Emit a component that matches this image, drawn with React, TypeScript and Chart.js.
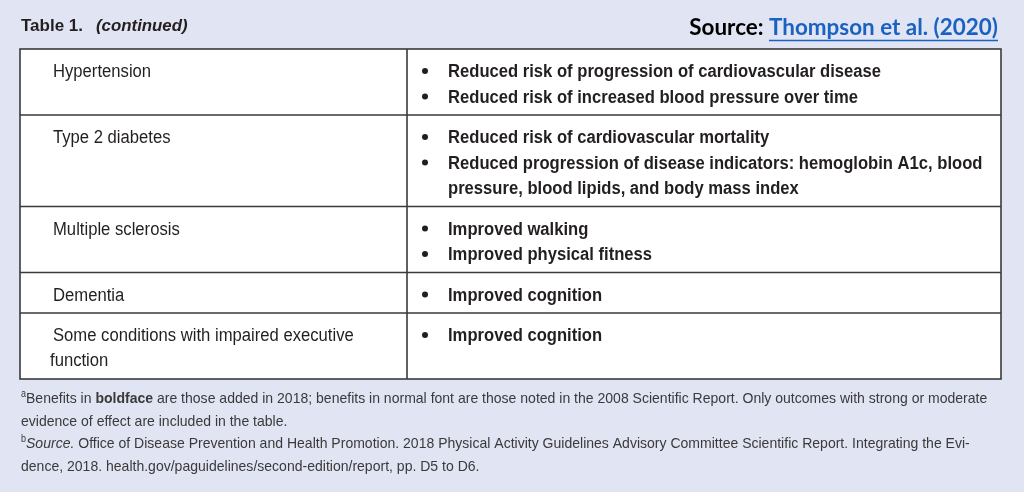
import React, { useEffect, useRef } from "react";
import { Chart, registerables } from "chart.js";

Chart.register(...registerables);

// ---- content ----
const titleLabel = "Table 1.";
const titleNote = "(continued)";
const sourceLabel = "Source: ";
const sourceLink = "Thompson et al. (2020)";

const conditions: string[][] = [
  ["Hypertension"],
  ["Type 2 diabetes"],
  ["Multiple sclerosis"],
  ["Dementia"],
  ["Some conditions with impaired executive", "function"],
];

const hypertensionBenefits: string[][] = [
  ["Reduced risk of progression of cardiovascular disease"],
  ["Reduced risk of increased blood pressure over time"],
];
const diabetesBenefits: string[][] = [
  ["Reduced risk of cardiovascular mortality"],
  ["Reduced progression of disease indicators: hemoglobin A1c, blood", "pressure, blood lipids, and body mass index"],
];
const sclerosisBenefits: string[][] = [["Improved walking"], ["Improved physical fitness"]];
const dementiaBenefits: string[][] = [["Improved cognition"]];
const executiveBenefits: string[][] = [["Improved cognition"]];
const benefitsByRow = [hypertensionBenefits, diabetesBenefits, sclerosisBenefits, dementiaBenefits, executiveBenefits];

type Seg = { t: string; s: "n" | "b" | "i" | "sup" };
const footnoteA1: Seg[] = [
  { t: "a", s: "sup" },
  { t: "Benefits in ", s: "n" },
  { t: "boldface", s: "b" },
  { t: " are those added in 2018; benefits in normal font are those noted in the 2008 Scientific Report. Only outcomes with strong or moderate", s: "n" },
];
const footnoteA2: Seg[] = [{ t: "evidence of effect are included in the table.", s: "n" }];
const footnoteB1: Seg[] = [
  { t: "b", s: "sup" },
  { t: "Source.", s: "i" },
  { t: " Office of Disease Prevention and Health Promotion. 2018 Physical Activity Guidelines Advisory Committee Scientific Report. Integrating the Evi-", s: "n" },
];
const footnoteB2: Seg[] = [{ t: "dence, 2018. health.gov/paguidelines/second-edition/report, pp. D5 to D6.", s: "n" }];
const footnotes = [footnoteA1, footnoteA2, footnoteB1, footnoteB2];

// ---- style ----
const W = 1024;
const H = 492;
const BG = "#e1e4f2";
const INK = "#231f20";
const FOOT_INK = "#3a3a3a";
const LINK = "#1a62c2";
const FAMILY = '"Liberation Sans", Arial, sans-serif';

function drawText(
  ctx: CanvasRenderingContext2D,
  s: string,
  x: number,
  y: number,
  font: string,
  sx: number,
  color: string
): number {
  ctx.save();
  ctx.font = font;
  ctx.fillStyle = color;
  ctx.textBaseline = "alphabetic";
  ctx.textAlign = "left";
  ctx.translate(x, y);
  ctx.scale(sx, 1);
  ctx.fillText(s, 0, 0);
  const w = ctx.measureText(s).width * sx;
  ctx.restore();
  return w;
}

const tablePlugin = {
  id: "tableDraw",
  beforeDraw(chart: any) {
    const ctx: CanvasRenderingContext2D = chart.ctx;
    ctx.save();
    ctx.fillStyle = BG;
    ctx.fillRect(0, 0, chart.width, chart.height);
    ctx.restore();
  },
  afterDraw(chart: any) {
    const ctx: CanvasRenderingContext2D = chart.ctx;
    const xs = chart.scales.x;
    const ys = chart.scales.y;
    const px = (v: number) => xs.getPixelForValue(v);
    const py = (v: number) => ys.getPixelForValue(v);

    // title
    drawText(ctx, titleLabel, px(21), py(31), `bold 17px ${FAMILY}`, 1.0, INK);
    drawText(ctx, titleNote, px(96), py(31), `italic bold 17px ${FAMILY}`, 0.99, INK);

    // source
    ctx.save();
    const srcFont = 'bold 22px Lato, "Open Sans", sans-serif';
    ctx.font = srcFont;
    const sx = 1.02;
    const wLabel = ctx.measureText(sourceLabel).width * sx;
    const wLink = ctx.measureText(sourceLink).width * sx;
    ctx.restore();
    const right = px(998);
    const sStart = right - wLabel - wLink;
    drawText(ctx, sourceLabel, sStart, py(35), srcFont, sx, "#000000");
    drawText(ctx, sourceLink, sStart + wLabel, py(35), srcFont, sx, LINK);
    ctx.save();
    ctx.strokeStyle = LINK;
    ctx.lineWidth = 1.6;
    ctx.beginPath();
    ctx.moveTo(sStart + wLabel, py(40.5));
    ctx.lineTo(right, py(40.5));
    ctx.stroke();
    ctx.restore();

    // table geometry from line counts
    const left = 20;
    const mid = 407;
    const rightEdge = 1001;
    const top = 49;
    const lineH = 25.5;
    const rowEdges: number[] = [top];
    conditions.forEach((c, i) => {
      const nb = benefitsByRow[i].reduce((a, b) => a + b.length, 0);
      const n = Math.max(c.length, nb);
      rowEdges.push(rowEdges[rowEdges.length - 1] + 15 + lineH * n);
    });
    const bottom = rowEdges[rowEdges.length - 1];

    ctx.save();
    ctx.fillStyle = "#ffffff";
    ctx.fillRect(px(left), py(top), px(rightEdge) - px(left), py(bottom) - py(top));
    ctx.restore();

    const regFont = `18px ${FAMILY}`;
    const boldFont = `bold 18px ${FAMILY}`;
    conditions.forEach((c, i) => {
      const rt = rowEdges[i];
      c.forEach((line, j) => {
        drawText(ctx, line, px(j === 0 ? 53 : 50), py(rt + 28 + j * 25), regFont, 0.925, INK);
      });
      let k = 0;
      benefitsByRow[i].forEach((item) => {
        item.forEach((line, j) => {
          const base = rt + 28 + k * 25.5;
          if (j === 0) {
            ctx.save();
            ctx.fillStyle = INK;
            ctx.beginPath();
            ctx.arc(px(425), py(base - 6), 3, 0, Math.PI * 2);
            ctx.fill();
            ctx.restore();
          }
          drawText(ctx, line, px(448), py(base), boldFont, 0.923, INK);
          k++;
        });
      });
    });

    // grid lines
    ctx.save();
    ctx.strokeStyle = "#3a3a3a";
    ctx.lineWidth = 1.6;
    ctx.strokeRect(px(left), py(top), px(rightEdge) - px(left), py(bottom) - py(top));
    ctx.beginPath();
    ctx.moveTo(px(mid), py(top));
    ctx.lineTo(px(mid), py(bottom));
    rowEdges.slice(1, -1).forEach((e) => {
      ctx.moveTo(px(left), py(e));
      ctx.lineTo(px(rightEdge), py(e));
    });
    ctx.stroke();
    ctx.restore();

    // footnotes
    const fnSx = 0.935;
    footnotes.forEach((segs, i) => {
      let x = px(21);
      const base = py(403 + i * 22.6);
      segs.forEach((seg) => {
        if (seg.s === "sup") {
          x += drawText(ctx, seg.t, x, base - 6, `10px ${FAMILY}`, 0.9, FOOT_INK);
        } else {
          const f =
            seg.s === "b" ? `bold 15px ${FAMILY}` : seg.s === "i" ? `italic 15px ${FAMILY}` : `15px ${FAMILY}`;
          x += drawText(ctx, seg.t, x, base, f, fnSx, FOOT_INK);
        }
      });
    });
  },
};

export default function App() {
  const ref = useRef<HTMLCanvasElement | null>(null);
  useEffect(() => {
    document.body.style.margin = "0";
    const canvas = ref.current;
    if (!canvas) return;
    const chart = new Chart(canvas, {
      type: "scatter",
      data: { datasets: [] },
      options: {
        animation: false,
        responsive: false,
        events: [],
        layout: { padding: 0 },
        plugins: { legend: { display: false }, tooltip: { enabled: false } },
        scales: {
          x: { type: "linear", min: 0, max: W, display: false },
          y: { type: "linear", min: 0, max: H, reverse: true, display: false },
        },
      },
      plugins: [tablePlugin],
    } as any);
    return () => chart.destroy();
  }, []);
  return (
    <div style={{ width: W, height: H }}>
      <canvas ref={ref} width={W} height={H} style={{ display: "block", width: W, height: H }} />
    </div>
  );
}
